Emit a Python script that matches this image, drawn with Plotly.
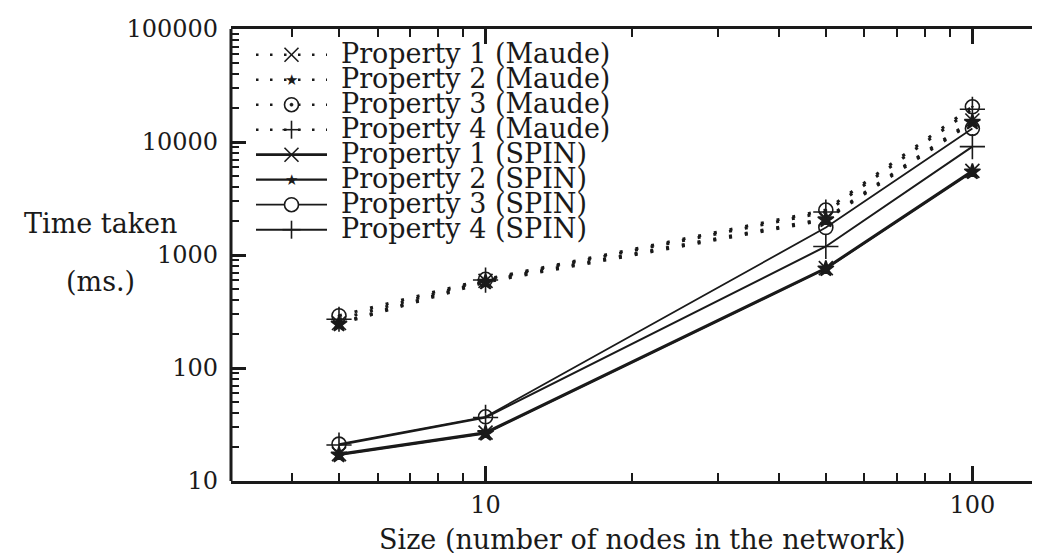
import math
import plotly.graph_objects as go

# ---------------- data ----------------
sizes = [5, 10, 50, 100]

maude_p1 = [250, 590, 2100, 15500]
maude_p2 = [245, 575, 2050, 15000]
maude_p3 = [290, 610, 2500, 20500]
maude_p4 = [270, 600, 2400, 19500]

spin_p1 = [17.3, 26.8, 765, 5550]
spin_p2 = [17.0, 26.4, 755, 5450]
spin_p3 = [21.2, 37.0, 1750, 13200]
spin_p4 = [20.8, 36.5, 1190, 9100]

series_names = [
    "Property 1 (Maude)", "Property 2 (Maude)", "Property 3 (Maude)", "Property 4 (Maude)",
    "Property 1 (SPIN)", "Property 2 (SPIN)", "Property 3 (SPIN)", "Property 4 (SPIN)",
]
series_values = [maude_p1, maude_p2, maude_p3, maude_p4, spin_p1, spin_p2, spin_p3, spin_p4]

x_tickvals = [10, 100]
x_ticktext = ["10", "100"]
y_tickvals = [10, 100, 1000, 10000, 100000]
y_ticktext = ["10", "100", "1000", "10000", "100000"]

x_title = "Size (number of nodes in the network)"
y_title_lines = ["Time taken", "(ms.)"]

# ---------------- styling ----------------
W, H = 1040, 553
L, R, T, B = 223, 0, 21, 80
INK = "#1a1a1a"
FONT = "DejaVu Serif"

DOT = "3px,13px"
styles = [
    dict(dash=DOT, lw=3, sym="x-thin-open", ms=14),
    dict(dash=DOT, lw=3, sym="star", ms=12),
    dict(dash=DOT, lw=3, sym="circle-open-dot", ms=14),
    dict(dash=DOT, lw=3, sym="cross-thin-open", ms=18),
    dict(dash="solid", lw=2.8, sym="x-thin-open", ms=14),
    dict(dash="solid", lw=2.2, sym="star", ms=12),
    dict(dash="solid", lw=1.8, sym="circle-open", ms=14),
    dict(dash="solid", lw=2.0, sym="cross-thin-open", ms=18),
]

fig = go.Figure()
for name, vals, st in zip(series_names, series_values, styles):
    fig.add_trace(go.Scatter(
        x=sizes, y=vals, name=name, mode="lines+markers", showlegend=False,
        line=dict(color=INK, width=st["lw"], dash=st["dash"]),
        marker=dict(symbol=st["sym"], size=st["ms"], color=INK,
                    line=dict(color=INK, width=1.6)),
    ))

# pixel -> paper helpers (layout only)
pw = W - L - R
ph = H - T - B
def fx(px):
    return (px - L) / pw
def fy(py):
    return (H - B - py) / ph

shapes = []
annotations = []

# left frame line (right spine lies just outside the picture in the reference)
shapes.append(dict(type="line", xref="paper", yref="paper", x0=0, x1=0, y0=0, y1=1,
                   line=dict(color=INK, width=3)))

# ---------------- manual legend ----------------
row0, step = 46.7, 25.0
mx = 283.5
lx0, lx1 = 248, 319
for i, (name, st) in enumerate(zip(series_names, styles)):
    yy = row0 + step * i
    solid = st["dash"] == "solid"
    shapes.append(dict(type="line", xref="paper", yref="paper",
                       x0=fx(lx0), x1=fx(lx1), y0=fy(yy), y1=fy(yy),
                       line=dict(color=INK, width=st["lw"] if solid else 2.5,
                                 dash="solid" if solid else "2.5px,11.5px")))
    sym = st["sym"]
    if sym == "x-thin-open":
        d = 7
        shapes.append(dict(type="line", xref="paper", yref="paper",
                           x0=fx(mx - d), x1=fx(mx + d), y0=fy(yy - d), y1=fy(yy + d),
                           line=dict(color=INK, width=1.6)))
        shapes.append(dict(type="line", xref="paper", yref="paper",
                           x0=fx(mx - d), x1=fx(mx + d), y0=fy(yy + d), y1=fy(yy - d),
                           line=dict(color=INK, width=1.6)))
    elif sym == "cross-thin-open":
        d = 9
        shapes.append(dict(type="line", xref="paper", yref="paper",
                           x0=fx(mx - d), x1=fx(mx + d), y0=fy(yy), y1=fy(yy),
                           line=dict(color=INK, width=1.6)))
        shapes.append(dict(type="line", xref="paper", yref="paper",
                           x0=fx(mx), x1=fx(mx), y0=fy(yy - d), y1=fy(yy + d),
                           line=dict(color=INK, width=1.6)))
    elif sym in ("circle-open", "circle-open-dot"):
        r = 7
        shapes.append(dict(type="circle", xref="paper", yref="paper",
                           x0=fx(mx - r), x1=fx(mx + r), y0=fy(yy - r), y1=fy(yy + r),
                           fillcolor="white", line=dict(color=INK, width=1.6)))
        if sym == "circle-open-dot":
            r2 = 1.6
            shapes.append(dict(type="circle", xref="paper", yref="paper",
                               x0=fx(mx - r2), x1=fx(mx + r2), y0=fy(yy - r2), y1=fy(yy + r2),
                               fillcolor=INK, line=dict(color=INK, width=0.5)))
    elif sym == "star":
        annotations.append(dict(text="\u2605", xref="paper", yref="paper",
                                x=fx(mx), y=fy(yy), xanchor="center", yanchor="middle",
                                showarrow=False, font=dict(family="DejaVu Sans", size=15, color=INK)))
    annotations.append(dict(text=name, xref="paper", yref="paper",
                            x=fx(331), y=fy(yy - 1), xanchor="left", yanchor="middle",
                            showarrow=False, font=dict(family=FONT, size=27, color=INK)))

# ---------------- axis titles ----------------
annotations.append(dict(text=x_title, xref="paper", yref="paper",
                        x=fx(634), y=fy(531), xanchor="center", yanchor="middle",
                        showarrow=False, font=dict(family=FONT, size=27, color=INK)))
annotations.append(dict(text=y_title_lines[0], xref="paper", yref="paper",
                        x=fx(92), y=fy(216), xanchor="center", yanchor="middle",
                        showarrow=False, font=dict(family=FONT, size=27, color=INK)))
annotations.append(dict(text=y_title_lines[1], xref="paper", yref="paper",
                        x=fx(92), y=fy(273), xanchor="center", yanchor="middle",
                        showarrow=False, font=dict(family=FONT, size=27, color=INK)))

axis_common = dict(
    showgrid=False, zeroline=False,
    linecolor=INK, linewidth=3, mirror="ticks",
    ticks="inside", ticklen=15, tickwidth=2.5, tickcolor=INK,
    tickfont=dict(family=FONT, size=24, color=INK),
    minor=dict(ticks="inside", ticklen=8, tickwidth=2, tickcolor=INK, dtick="D1", showgrid=False),
)

fig.update_layout(
    width=W, height=H,
    margin=dict(l=L, r=R, t=T, b=B, pad=0),
    paper_bgcolor="white", plot_bgcolor="white",
    showlegend=False,
    shapes=shapes, annotations=annotations,
    xaxis=dict(type="log", range=[math.log10(3), math.log10(143)], showline=True,
               tickmode="array", tickvals=x_tickvals, ticktext=x_ticktext,
               ticklabelstandoff=0, **axis_common),
    yaxis=dict(type="log", range=[1, 5], showline=False,
               tickmode="array", tickvals=y_tickvals, ticktext=y_ticktext,
               ticklabelstandoff=12, **axis_common),
)

fig.write_html("out.html")
